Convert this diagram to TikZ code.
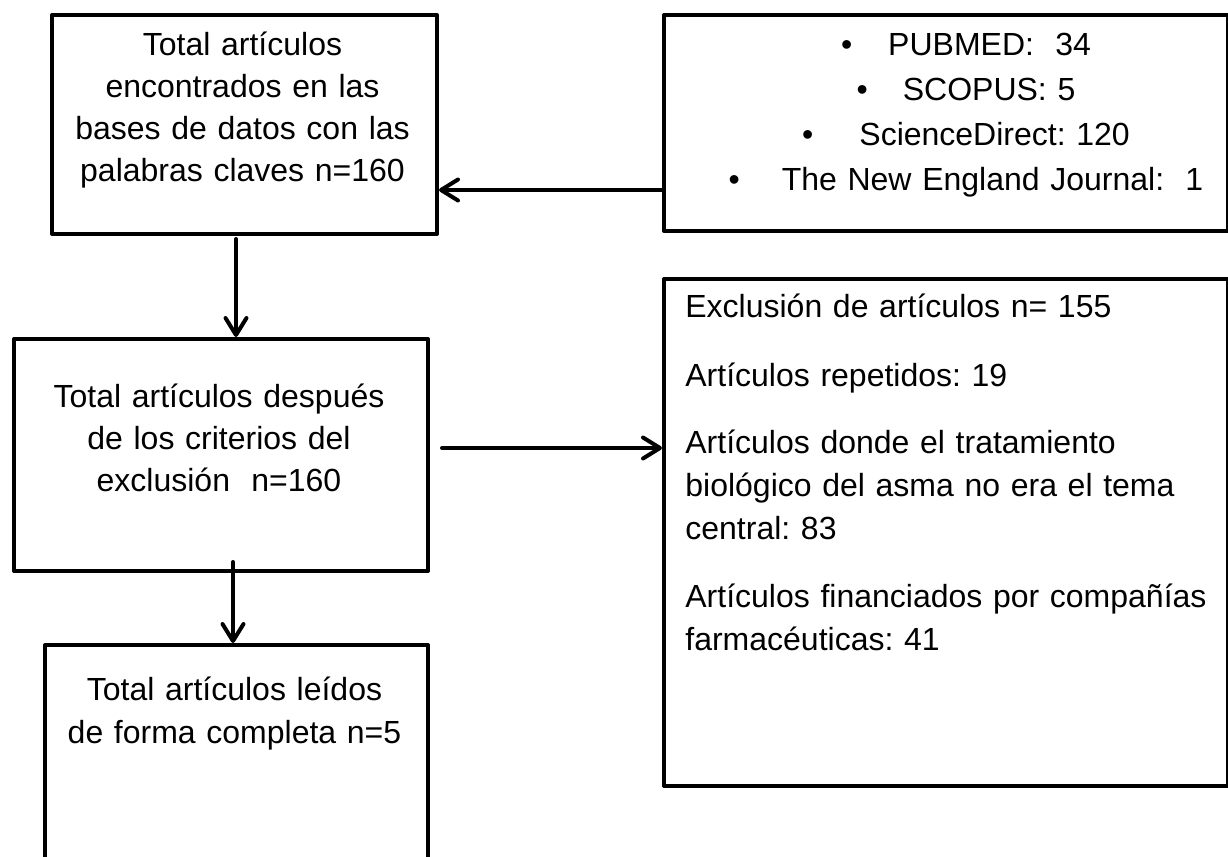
\documentclass[tikz,border=0pt]{standalone}
\usepackage{fontspec}
\setmainfont{Liberation Sans}
\usetikzlibrary{arrows.meta,positioning}

\tikzset{
  box/.style={draw, line width=2pt, line join=round, anchor=north west,
    inner sep=0pt},
  txt/.style={inner sep=0pt, anchor=base, align=center},
  flow/.style={line width=2pt, line cap=round,
    -{Straight Barb[length=8.5pt,width=10.5pt,round]}}
}

\begin{document}
\frenchspacing
\begin{tikzpicture}[x=0.5pt, y=-0.5pt]
  \useasboundingbox (0,0) rectangle (1228,857);

  % boxes
  \node[box, minimum width=192.5pt, minimum height=109.5pt] (boxA) at (50,13) {};
  \node[box, minimum width=282pt, minimum height=108pt] (boxB) at (662,13) {};
  \node[box, minimum width=207pt, minimum height=116pt] (boxC) at (12,337) {};
  \node[box, minimum width=282pt, minimum height=253.5pt] (boxD) at (662,277) {};
  \node[box, minimum width=191.5pt, minimum height=118.5pt] (boxE) at (43,643) {};

  % texts
  \node[txt, text width=190pt, font=\fontsize{16}{21}\selectfont] (txtA) at (242.5,55)
    {Total artículos\\encontrados en las\\bases de datos con las\\palabras claves n=160};
  \node[txt, text width=280pt, font=\fontsize{16}{22.5}\selectfont] (txtB) at (966,55)
    {•\hspace{18pt}PUBMED:\ \ 34\\
     •\hspace{17.5pt}SCOPUS: 5\\
     •\hspace{23pt}ScienceDirect: 120\\
     •\hspace{21pt}The New England Journal:\ \ 1};
  \node[txt, text width=205pt, font=\fontsize{16}{21}\selectfont] (txtC) at (219,407)
    {Total artículos después\\de los criterios del\\exclusión\ \ n=160};
  \node[txt, anchor=base west, align=left, text width=268pt,
    font=\fontsize{16}{21.5}\selectfont] (txtD) at (685,317)
    {Exclusión de artículos n= 155\\[13pt]
     Artículos repetidos: 19\\[12pt]
     Artículos donde el tratamiento\\
     biológico del asma no era el tema\\
     central: 83\\[12.5pt]
     Artículos financiados por compañías\\
     farmacéuticas: 41};
  \node[txt, text width=190pt, font=\fontsize{16}{21.5}\selectfont] (txtE) at (234.5,700)
    {Total artículos leídos\\de forma completa n=5};

  % connectors
  \draw[flow] (boxB.west |- 0,190) -- (boxA.east |- 0,190);
  \draw[flow] ([yshift=-1.5pt]boxA.south -| 236,0) -- (boxC.north -| 236,0);
  \draw[flow] ([xshift=6pt]boxC.east |- 0,448) -- (boxD.west |- 0,448);
  \draw[flow] ([yshift=5.5pt]boxC.south -| 233,0) -- (boxE.north -| 233,0);
\end{tikzpicture}
\end{document}
